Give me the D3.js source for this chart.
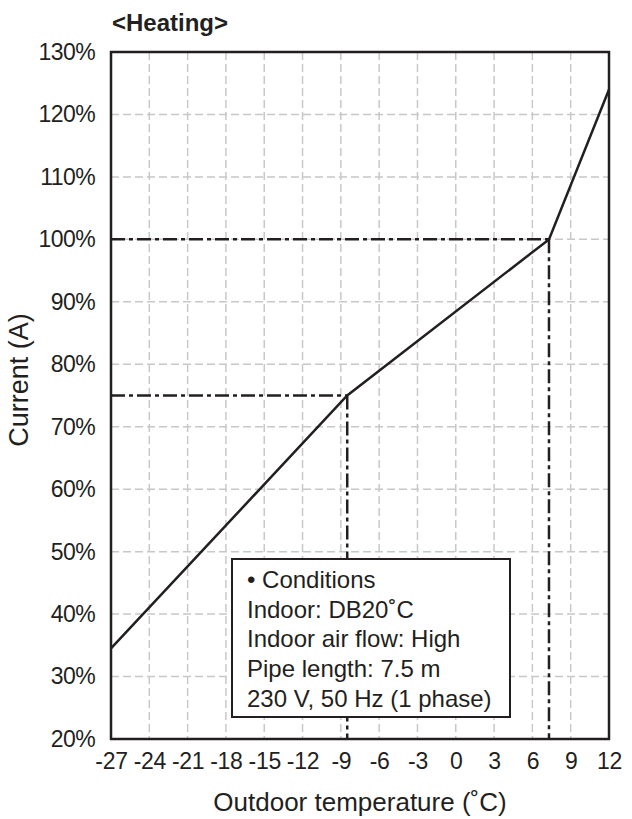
<!DOCTYPE html>
<meta charset="utf-8">
<style>
  body { margin: 0; background: #fff; }
  svg text { font-family: "Liberation Sans", Arial, sans-serif; fill: #231f20; }
  .grid line { stroke: #c8c8c8; stroke-width: 1.5; stroke-dasharray: 8,4; }
</style>
<svg width="632" height="819"></svg>
<script src="https://d3js.org/d3.v7.min.js"></script>
<script>

// outdoor temperature (C) vs current (%)
var temps = [-27, -8.5, 7.3, 12];
var current = [34.5, 75, 100, 124];

// kinks marked with dash-dot guides
var markTemps = [-8.5, 7.3];
var markCurrent = [75, 100];

var xTicks = d3.range(-27, 13, 3);
var yTicks = d3.range(20, 131, 10);

var conditions = [
  "\u2022 Conditions",
  "Indoor: DB20\u02daC",
  "Indoor air flow: High",
  "Pipe length: 7.5 m",
  "230 V, 50 Hz (1 phase)"
];

var svg = d3.select("svg");
var pl = 111, pr = 609, pt = 52, pb = 739;

var x = d3.scaleLinear().domain([-27, 12]).range([pl, pr]);
var y = d3.scaleLinear().domain([20, 130]).range([pb, pt]);

// grid
var grid = svg.append("g").attr("class", "grid");
grid.selectAll(".gx")
  .data(xTicks.slice(1, -1))
  .enter().append("line")
    .attr("x1", d => x(d)).attr("x2", d => x(d))
    .attr("y1", pt).attr("y2", pb);
grid.selectAll(".gy")
  .data(yTicks.slice(1, -1))
  .enter().append("line")
    .attr("x1", pl).attr("x2", pr)
    .attr("y1", d => y(d)).attr("y2", d => y(d));

// dash-dot guides
var guides = svg.append("g")
    .attr("stroke", "#231f20")
    .attr("stroke-width", 2.5)
    .attr("stroke-dasharray", "14,4,4,4");
markTemps.forEach(function(t, i) {
  guides.append("line")
    .attr("x1", x(-27)).attr("x2", x(t))
    .attr("y1", y(markCurrent[i])).attr("y2", y(markCurrent[i]));
  guides.append("line")
    .attr("x1", x(t)).attr("x2", x(t))
    .attr("y1", y(markCurrent[i])).attr("y2", y(20));
});

// data line
var line = d3.line().x(d => x(d[0])).y(d => y(d[1]));
svg.append("path")
    .datum(d3.zip(temps, current))
    .attr("d", line)
    .attr("fill", "none")
    .attr("stroke", "#231f20")
    .attr("stroke-width", 2.5);

// conditions box
var box = svg.append("g").attr("transform", "translate(232,559)");
box.append("rect")
    .attr("width", 278).attr("height", 158)
    .attr("fill", "#fff")
    .attr("stroke", "#231f20")
    .attr("stroke-width", 2);
box.selectAll("text")
  .data(conditions)
  .enter().append("text")
    .attr("x", 15)
    .attr("y", (d, i) => 29 + i * 29.7)
    .attr("font-size", 24)
    .text(d => d);

// frame
svg.append("rect")
    .attr("x", pl).attr("y", pt)
    .attr("width", pr - pl).attr("height", pb - pt)
    .attr("fill", "none")
    .attr("stroke", "#231f20")
    .attr("stroke-width", 2.5);

// axes (labels only)
var yAxis = svg.append("g")
    .attr("transform", "translate(" + pl + ",0)")
    .call(d3.axisLeft(y).tickValues(yTicks).tickSize(0).tickPadding(16).tickFormat(d => d + "%"));
yAxis.select(".domain").remove();
yAxis.selectAll("text").attr("font-size", 23).attr("letter-spacing", -0.6).attr("font-family", null).attr("fill", null);

var xAxis = svg.append("g")
    .attr("transform", "translate(0," + pb + ")")
    .call(d3.axisBottom(x).tickValues(xTicks).tickSize(0).tickPadding(14).tickFormat(d => String(d)));
xAxis.select(".domain").remove();
xAxis.selectAll("text").attr("font-size", 23).attr("letter-spacing", -0.3).attr("font-family", null).attr("fill", null);

// titles
svg.append("text")
    .attr("x", 112).attr("y", 31)
    .attr("font-size", 24)
    .attr("font-weight", "bold")
    .text("<Heating>");

svg.append("text")
    .attr("transform", "translate(28,380) rotate(-90)")
    .attr("text-anchor", "middle")
    .attr("font-size", 27)
    .text("Current (A)");

svg.append("text")
    .attr("x", 360).attr("y", 811)
    .attr("text-anchor", "middle")
    .attr("font-size", 26)
    .text("Outdoor temperature (\u02daC)");

</script>
